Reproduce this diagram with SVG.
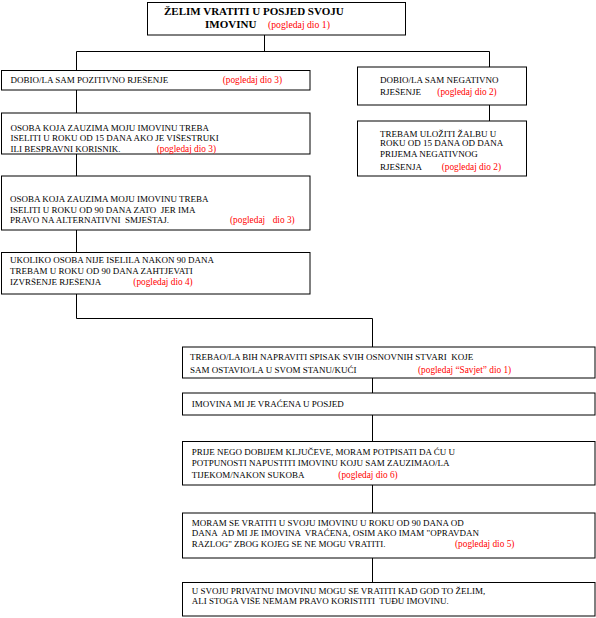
<svg xmlns="http://www.w3.org/2000/svg" width="596" height="618" viewBox="0 0 596 618">
<style>
.box{fill:#fff;stroke:#000;stroke-width:1}
.c{stroke:#000;stroke-width:1;fill:none}
text{font-family:"Liberation Serif","Times New Roman",serif;font-size:9px;fill:#000;white-space:pre}
.r{fill:#ff0000;font-size:9.3px}
.t{font-weight:bold;font-size:11px}
.tr{fill:#ff0000;font-size:9.7px}
</style>
<rect width="596" height="618" fill="#fff"/>
<g id="connectors">
<path class="c" d="M264.5 35V51.5M76.5 51.5H489.5M76.5 51.5V70M489.5 51.5V67M489.5 105V121M76.5 90V113M76.5 154V176M76.5 230V252M76.5 294V318.5H372.5V347M372.5 378V393M372.5 415V441.5M372.5 485V513M372.5 558V582.5"/>
</g>
<g id="n-start">
<rect class="box" x="147.5" y="2.5" width="258" height="32.5"/>
<text class="t" x="164" y="15">ŽELIM VRATITI U POSJED SVOJU</text>
<text class="t" x="205" y="28">IMOVINU</text>
<text class="tr" x="268" y="27.7">(pogledaj dio 1)</text>
</g>
<g id="n-pozitivno">
<rect class="box" x="1.5" y="70.5" width="308.5" height="19.5"/>
<text x="10.5" y="82.7">DOBIO/LA SAM POZITIVNO RJEŠENJE</text>
<text class="r" x="222.7" y="82.7">(pogledaj dio 3)</text>
</g>
<g id="n-15dana">
<rect class="box" x="1.5" y="113" width="308.5" height="41"/>
<text x="10.5" y="130.5">OSOBA KOJA ZAUZIMA MOJU IMOVINU TREBA</text>
<text x="10.5" y="141">ISELITI U ROKU OD 15 DANA AKO JE VIŠESTRUKI</text>
<text x="10.5" y="151.7">ILI BESPRAVNI KORISNIK.</text>
<text class="r" x="156.7" y="151.7">(pogledaj dio 3)</text>
</g>
<g id="n-90dana">
<rect class="box" x="1.5" y="176" width="308.5" height="54"/>
<text x="10" y="201.7">OSOBA KOJA ZAUZIMA MOJU IMOVINU TREBA</text>
<text x="10" y="212.7">ISELITI U ROKU OD 90 DANA ZATO  JER IMA</text>
<text x="10" y="223.3">PRAVO NA ALTERNATIVNI  SMJEŠTAJ.</text>
<text class="r" x="230" y="223.3">(pogledaj</text>
<text class="r" x="272.7" y="223.3">dio 3)</text>
</g>
<g id="n-izvrsenje">
<rect class="box" x="1.5" y="252.5" width="308.5" height="41.5"/>
<text x="10" y="263.3">UKOLIKO OSOBA NIJE ISELILA NAKON 90 DANA</text>
<text x="10" y="274">TREBAM U ROKU OD 90 DANA ZAHTJEVATI</text>
<text x="10" y="285">IZVRŠENJE RJEŠENJA</text>
<text class="r" x="133.3" y="285">(pogledaj dio 4)</text>
</g>
<g id="n-negativno">
<rect class="box" x="357.5" y="67" width="169" height="38"/>
<text x="380" y="82.7">DOBIO/LA SAM NEGATIVNO</text>
<text x="380" y="95">RJEŠENJE</text>
<text class="r" x="437.3" y="95">(pogledaj dio 2)</text>
</g>
<g id="n-zalba">
<rect class="box" x="357.5" y="121" width="169" height="55"/>
<text x="380" y="136.5">TREBAM ULOŽITI ŽALBU U</text>
<text x="380" y="146">ROKU OD 15 DANA OD DANA</text>
<text x="380" y="156.5">PRIJEMA NEGATIVNOG</text>
<text x="380" y="170">RJEŠENJA</text>
<text class="r" x="441.7" y="170">(pogledaj dio 2)</text>
</g>
<g id="n-spisak">
<rect class="box" x="182.5" y="347" width="412.5" height="31"/>
<text x="190" y="360.3">TREBAO/LA BIH NAPRAVITI SPISAK SVIH OSNOVNIH STVARI  KOJE</text>
<text x="190" y="373">SAM OSTAVIO/LA U SVOM STANU/KUĆI</text>
<text class="r" x="418" y="373">(pogledaj “Savjet” dio 1)</text>
</g>
<g id="n-vracena">
<rect class="box" x="182.5" y="393" width="412.5" height="22"/>
<text x="191.7" y="407.3">IMOVINA MI JE VRAĆENA U POSJED</text>
</g>
<g id="n-kljucevi">
<rect class="box" x="182.5" y="441.5" width="412.5" height="43.5"/>
<text x="191.7" y="455">PRIJE NEGO DOBIJEM KLJUČEVE, MORAM POTPISATI DA ĆU U</text>
<text x="191.7" y="466">POTPUNOSTI NAPUSTITI IMOVINU KOJU SAM ZAUZIMAO/LA</text>
<text x="191.7" y="477.7">TIJEKOM/NAKON SUKOBA</text>
<text class="r" x="338.3" y="477.7">(pogledaj dio 6)</text>
</g>
<g id="n-vratiti">
<rect class="box" x="182.5" y="513" width="412.5" height="45"/>
<text x="191.7" y="525.7">MORAM SE VRATITI U SVOJU IMOVINU U ROKU OD 90 DANA OD</text>
<text x="191.7" y="536">DANA  AD MI JE IMOVINA  VRAĆENA, OSIM AKO IMAM "OPRAVDAN</text>
<text x="191.7" y="546.7">RAZLOG" ZBOG KOJEG SE NE MOGU VRATITI.</text>
<text class="r" x="455" y="546.7">(pogledaj dio 5)</text>
</g>
<g id="n-privatna">
<rect class="box" x="182.5" y="582.5" width="412.5" height="33.5"/>
<text x="191.7" y="594">U SVOJU PRIVATNU IMOVINU MOGU SE VRATITI KAD GOD TO ŽELIM,</text>
<text x="191.7" y="604">ALI STOGA VIŠE NEMAM PRAVO KORISTITI  TUĐU IMOVINU.</text>
</g>
</svg>
